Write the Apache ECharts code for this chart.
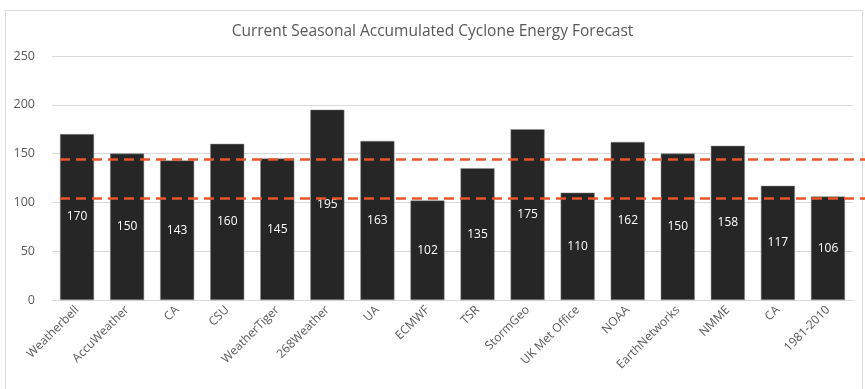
<!DOCTYPE html>
<html><head><meta charset="utf-8">
<script src="https://cdn.jsdelivr.net/npm/echarts@6/dist/echarts.min.js"></script>
<style>html,body{margin:0;padding:0;background:#fff}#c{width:865px;height:389px}</style>
</head><body><div id="c"></div>
<script>
const categories = ["Weatherbell","AccuWeather","CA","CSU","WeatherTiger","268Weather","UA","ECMWF","TSR","StormGeo","UK Met Office","NOAA","EarthNetworks","NMME","CA","1981-2010"];
const aceValues = [170,150,143,160,145,195,163,102,135,175,110,162,150,158,117,106];
const referenceLines = [144,104];
const yTicks = {min:0, max:250, interval:50};
const title = "Current Seasonal Accumulated Cyclone Energy Forecast";

const font = "Open Sans";
const chart = echarts.init(document.getElementById('c'), null, {renderer:'canvas'});
chart.setOption({
  animation:false,
  backgroundColor:'#fff',
  title:{text:title,left:'center',top:19,textStyle:{fontFamily:font,fontSize:15.5,fontWeight:'normal',color:'#595959'}},
  graphic:[{type:'rect',shape:{x:5.5,y:10.5,width:857,height:400},style:{fill:'none',stroke:'#d9d9d9',lineWidth:1},silent:true}],
  grid:{left:52,right:12,top:56,bottom:89},
  xAxis:{type:'category',data:categories,
    axisLine:{lineStyle:{color:'#d9d9d9'}},axisTick:{show:false},
    axisLabel:{rotate:45,interval:0,fontFamily:font,fontSize:12,color:'#595959',margin:8}},
  yAxis:{type:'value',min:yTicks.min,max:yTicks.max,interval:yTicks.interval,
    axisLine:{show:false},axisTick:{show:false},
    splitLine:{lineStyle:{color:'#d9d9d9'}},
    axisLabel:{fontFamily:font,fontSize:12.5,color:'#595959',margin:17}},
  series:[{type:'bar',data:aceValues,barCategoryGap:'32%',
    itemStyle:{color:'#262626',borderColor:'#8c8c8c',borderWidth:0.5},
    label:{show:true,position:'inside',color:'#fff',fontFamily:font,fontSize:12},
    markLine:{silent:true,symbol:['none','none'],label:{show:false},
      lineStyle:{color:'#e8562a',type:[10,6],width:2.5},
      data:referenceLines.map(v=>[{x:60,yAxis:v},{x:865,yAxis:v}])}
  }]
});
</script></body></html>
